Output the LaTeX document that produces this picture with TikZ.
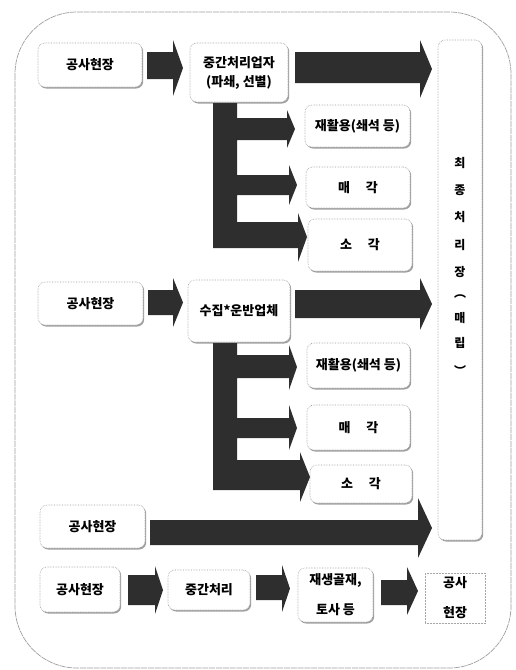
\documentclass[tikz,border=0pt]{standalone}
\usepackage{fontspec}
\setmainfont{Noto Sans CJK KR}
\usetikzlibrary{shadows}
\tikzset{
  box/.style={draw=gray!80, densely dotted, line width=0.6pt, rounded corners=7pt, fill=white,
    drop shadow={shadow xshift=1.2pt, shadow yshift=-1.5pt, fill=gray!75, opacity=1},
    align=center, font=\fontsize{13}{19}\selectfont\bfseries, inner sep=0pt},
  plainbox/.style={draw=gray!70, densely dotted, line width=0.5pt, fill=white,
    align=center, font=\fontsize{13}{19}\selectfont\bfseries, inner sep=0pt},
  arrowfill/.style={fill=black!82},
  frame/.style={draw=gray!75, line width=0.7pt, dash pattern=on 6pt off 0.8pt, rounded corners=62pt},
  vchar/.style={font=\fontsize{12}{12}\selectfont\bfseries, inner sep=0pt}
}
\newcommand\blockarr[7]{\fill[arrowfill] (#1,#4) -- (#2,#4) -- (#2,#6) -- (#3,{(#6+#7)/2}) -- (#2,#7) -- (#2,#5) -- (#1,#5) -- cycle;}
\begin{document}
\begin{tikzpicture}[x=1pt,y=-1pt]
\useasboundingbox (0,0) rectangle (515,670);
% outer frame
\draw[frame] (15,12) rectangle (511,668);

% final disposal box
\node[box, minimum width=44pt, minimum height=500pt] (fin) at (460,290) {};
\foreach \c/\yy in {최/163, 종/190, 처/217, 리/245, 장/272, ︵/297, 매/318, 립/343, ︶/370}
  \node[vchar] at (fin.center |- 0,\yy) {\c};

% row 1
\node[box, minimum width=104pt, minimum height=44pt] (b1) at (90,65) {공사현장};
\node[box, minimum width=98pt, minimum height=59pt] (m1) at (239,72.5) {중간처리업자\\(파쇄, 선별)};
\node[box, minimum width=105pt, minimum height=42pt] (r1) at (357.5,126) {재활용(쇄석 등)};
\node[box, minimum width=104pt, minimum height=41pt] (s1) at (358,187.5) {매\hspace{1.2em}각};
\node[box, minimum width=104pt, minimum height=52pt] (i1) at (360,245) {소\hspace{1.2em}각};

\blockarr{147}{173}{183}{52}{79}{40}{96}
\blockarr{295}{420}{432}{52}{83}{40}{98}
\fill[arrowfill] (213,103) -- (237,103) -- (237,118) -- (287,118) -- (287,110) -- (295,129) -- (287,148) -- (287,140)
  -- (237,140) -- (237,175) -- (289,175) -- (289,165) -- (297,185) -- (289,205) -- (289,195) -- (237,195)
  -- (237,222) -- (298,222) -- (298,213) -- (307,237) -- (298,262) -- (298,248) -- (213,248) -- cycle;

% row 2
\node[box, minimum width=105pt, minimum height=43pt] (b2) at (90.5,303.5) {공사현장};
\node[box, minimum width=102pt, minimum height=62pt] (m2) at (239,311) {수집*운반업체};
\node[box, minimum width=103pt, minimum height=45pt] (r2) at (358.5,365.5) {재활용(쇄석 등)};
\node[box, minimum width=103pt, minimum height=45pt] (s2) at (358.5,427.5) {매\hspace{1.2em}각};
\node[box, minimum width=102pt, minimum height=38pt] (i2) at (361,484) {소\hspace{1.2em}각};

\blockarr{148}{173}{183}{290}{315}{278}{327}
\blockarr{295}{420}{432}{290}{318}{278}{330}
\fill[arrowfill] (213,343) -- (237,343) -- (237,355) -- (289,355) -- (289,345) -- (297,367) -- (289,390) -- (289,378)
  -- (237,378) -- (237,418) -- (289,418) -- (289,405) -- (297,428) -- (289,450) -- (289,438) -- (237,438)
  -- (237,460) -- (300,460) -- (300,452) -- (310,477) -- (300,502) -- (300,490) -- (213,490) -- cycle;

% row 3
\node[box, minimum width=105pt, minimum height=43pt] (b3) at (92.5,526.5) {공사현장};
\blockarr{150}{418}{432}{520}{545}{498}{558}

% row 4
\node[box, minimum width=80pt, minimum height=45pt] (b4) at (80,589.5) {공사현장};
\node[box, minimum width=82pt, minimum height=40pt] (m4) at (209,590) {중간처리};
\node[box, minimum width=75pt, minimum height=54pt, font=\fontsize{13}{30}\selectfont\bfseries] (g4) at (335.5,595) {재생골재,\\토사 등};
\node[plainbox, minimum width=60pt, minimum height=50pt, font=\fontsize{13}{30}\selectfont\bfseries] (e4) at (455,598) {공사\\현장};

\blockarr{128}{155}{163}{575}{605}{566}{614}
\blockarr{256}{282}{290}{575}{600}{565}{612}
\blockarr{381}{407}{418}{580}{605}{567}{615}
\end{tikzpicture}
\end{document}
